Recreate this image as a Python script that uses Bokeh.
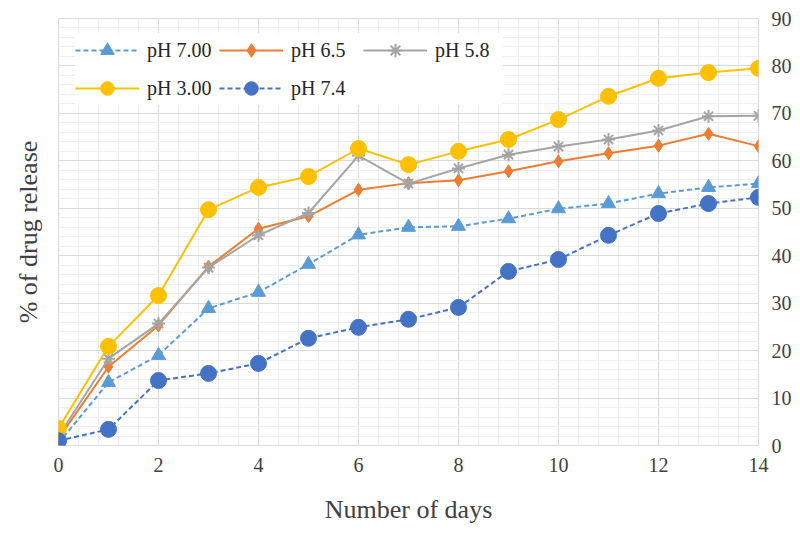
from bokeh.plotting import figure
from bokeh.models import (LinearAxis, Legend, LegendItem, Range1d,
                          SingleIntervalTicker, FixedTicker, ColumnDataSource)
from bokeh.embed import file_html
from bokeh.resources import INLINE

days = list(range(15))
ph_700 = [0.5, 13.3, 19.0, 28.9, 32.3, 38.2, 44.4, 46.0, 46.2, 47.8, 49.9, 51.0, 53.1, 54.4, 55.2]
ph_65 = [1.5, 16.6, 25.3, 37.7, 45.7, 48.3, 53.9, 55.3, 55.9, 57.8, 59.9, 61.6, 63.2, 65.7, 63.1]
ph_58 = [2.0, 18.3, 25.7, 37.5, 44.3, 49.0, 61.1, 55.2, 58.4, 61.3, 63.0, 64.5, 66.4, 69.4, 69.5]
ph_300 = [3.6, 20.9, 31.6, 49.7, 54.4, 56.7, 62.6, 59.2, 62.0, 64.5, 68.7, 73.6, 77.4, 78.6, 79.5]
ph_74 = [1.0, 3.4, 13.7, 15.2, 17.3, 22.6, 24.9, 26.6, 29.1, 36.7, 39.2, 44.3, 48.9, 51.0, 52.3]

series_names = ["pH 7.00", "pH 6.5", "pH 5.8", "pH 3.00", "pH 7.4"]
series_values = [ph_700, ph_65, ph_58, ph_300, ph_74]
colors = ["#5B9BD5", "#ED7D31", "#A5A5A5", "#FFC000", "#4472C4"]
markers = ["triangle", "diamond", "asterisk", "circle", "circle"]
marker_sizes = [14, 13, 13, 16, 16]
dashes = ["5 3", "solid", "solid", "solid", "5 3"]

FONT = "Liberation Serif"

p = figure(width=800, height=533, x_range=Range1d(0, 14), y_range=Range1d(0, 90),
           y_axis_location="right", output_backend="svg", toolbar_location=None,
           min_border_left=58, min_border_right=42, min_border_top=18, min_border_bottom=88)
p.background_fill_color = "white"
p.border_fill_color = "white"
p.outline_line_color = "#d9d9d9"

xt = SingleIntervalTicker(interval=2, num_minor_ticks=5)
yt = SingleIntervalTicker(interval=10, num_minor_ticks=5)
p.xaxis.ticker = xt
p.yaxis.ticker = yt
p.xgrid.ticker = xt
p.ygrid.ticker = yt
for g in (p.xgrid, p.ygrid):
    g.grid_line_color = "#d9d9d9"
    g.grid_line_width = 1
    g.minor_grid_line_color = "#eeeeee"
    g.minor_grid_line_width = 1

for ax in (p.xaxis[0], p.yaxis[0]):
    ax.axis_line_color = None
    ax.major_tick_line_color = None
    ax.minor_tick_line_color = None
    ax.major_label_text_font = FONT
    ax.major_label_text_font_size = "20px"
    ax.major_label_text_color = "#404040"
    ax.axis_label_text_font = FONT
    ax.axis_label_text_font_size = "26px"
    ax.axis_label_text_font_style = "normal"
    ax.axis_label_text_color = "#404040"

p.xaxis[0].axis_label = "Number of days"
p.xaxis[0].major_label_standoff = 6
p.xaxis[0].axis_label_standoff = 20
p.yaxis[0].major_label_standoff = 7

left = LinearAxis(ticker=FixedTicker(ticks=[]), axis_label="% of drug release")
left.axis_line_color = None
left.major_tick_line_color = None
left.minor_tick_line_color = None
left.axis_label_text_font = FONT
left.axis_label_text_font_size = "26px"
left.axis_label_text_font_style = "normal"
left.axis_label_text_color = "#404040"
left.axis_label_standoff = 16
p.add_layout(left, "left")

items = []
for name, vals, c, m, s, d in zip(series_names, series_values, colors, markers, marker_sizes, dashes):
    src = ColumnDataSource(dict(x=days, y=vals))
    ln = p.line("x", "y", source=src, line_color=c, line_width=2, line_dash=d)
    if m == "asterisk":
        mk = p.scatter("x", "y", source=src, marker=m, size=s, line_color=c, line_width=2)
    else:
        mk = p.scatter("x", "y", source=src, marker=m, size=s, fill_color=c, line_color=c)
    items.append(LegendItem(label=name, renderers=[ln, mk]))

legend = Legend(items=items, location=(17, 340), orientation="horizontal", ncols=3)
legend.label_text_font = FONT
legend.label_text_font_size = "20px"
legend.label_text_color = "#262626"
legend.glyph_width = 64
legend.glyph_height = 34
legend.label_height = 34
legend.label_width = 68
legend.label_standoff = 8
legend.spacing = 4
legend.padding = 8
legend.margin = 0
legend.border_line_color = None
legend.background_fill_color = "white"
legend.background_fill_alpha = 1.0
p.add_layout(legend, "center")

open("out.html", "w").write(file_html(p, INLINE))
